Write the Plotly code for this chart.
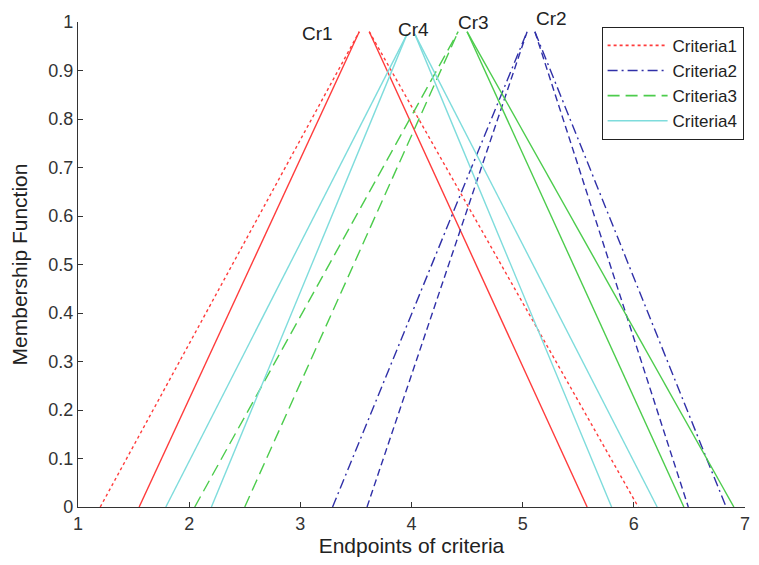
import plotly.graph_objects as go

# ---- data ----
crit_names = ["Criteria1", "Criteria2", "Criteria3", "Criteria4"]
peak_labels = ["Cr1", "Cr2", "Cr3", "Cr4"]
outer_left = [1.20, 3.29, 2.05, 1.79]
inner_left = [1.55, 3.60, 2.50, 2.20]
peak_left = [3.53, 5.04, 4.42, 3.96]
peak_right = [3.62, 5.11, 4.50, 4.03]
inner_right = [5.58, 6.49, 6.45, 5.80]
outer_right = [6.04, 6.83, 6.90, 6.21]
peak_height = [0.98, 0.98, 0.98, 0.975]

x_ticks = [1, 2, 3, 4, 5, 6, 7]
y_ticks = [0, 0.1, 0.2, 0.3, 0.4, 0.5, 0.6, 0.7, 0.8, 0.9, 1]

# ---- styles ----
colors = ["#ff3b3b", "#3030a8", "#4ccc4c", "#7edcdc"]
legend_dash = ["3px,3px", "10px,4px,2px,4px", "12px,6px", "solid"]
# per segment: outer-left, inner-left, inner-right, outer-right
seg_dash = [
    ["3px,3px", "solid", "solid", "3px,3px"],
    ["10px,4px,2px,4px", "7px,4px", "7px,4px", "10px,4px,2px,4px"],
    ["12px,6px", "12px,6px", "solid", "solid"],
    ["solid", "solid", "solid", "solid"],
]
label_pos = [(3.15, 0.977), (5.26, 1.008), (4.56, 0.999), (4.02, 0.984)]

FONT = "Liberation Sans, Arial, sans-serif"

fig = go.Figure()

for i, name in enumerate(crit_names):
    h = peak_height[i]
    segs = [
        ([outer_left[i], peak_left[i]], [0, h]),
        ([inner_left[i], peak_left[i]], [0, h]),
        ([peak_right[i], inner_right[i]], [h, 0]),
        ([peak_right[i], outer_right[i]], [h, 0]),
    ]
    for j, (xs, ys) in enumerate(segs):
        fig.add_trace(go.Scatter(
            x=xs, y=ys, mode="lines",
            line=dict(color=colors[i], width=1.4, dash=seg_dash[i][j]),
            name=name, legendgroup=name, showlegend=False,
            hoverinfo="skip",
        ))
    fig.add_trace(go.Scatter(
        x=[None], y=[None], mode="lines",
        line=dict(color=colors[i], width=1.6, dash=legend_dash[i]),
        name=name, legendgroup=name, showlegend=True,
    ))

for i, lab in enumerate(peak_labels):
    fig.add_annotation(
        x=label_pos[i][0], y=label_pos[i][1], xref="x", yref="paper",
        text=lab, showarrow=False,
        font=dict(family=FONT, size=19, color="#222"),
        xanchor="center", yanchor="middle",
    )

axis_font = dict(family=FONT, size=18, color="#333")

# the page body adds an 8px margin, so the figure is sized to fit the window
fig.update_layout(
    width=743, height=549,
    margin=dict(l=70, r=6, t=14, b=50),
    paper_bgcolor="white", plot_bgcolor="white",
    showlegend=True,
    legend=dict(
        x=0.785, y=0.99, xanchor="left", yanchor="top",
        bgcolor="white", bordercolor="#222", borderwidth=1,
        font=dict(family=FONT, size=17, color="#222"),
        itemwidth=60, tracegroupgap=0,
    ),
    xaxis=dict(
        range=[1, 7], tickvals=x_ticks, ticktext=[str(v) for v in x_ticks],
        showgrid=False, zeroline=False, showline=True, linecolor="#333", linewidth=1.2,
        ticks="inside", ticklen=5, tickcolor="#333", mirror=False,
        tickfont=axis_font, automargin=False, ticklabeloverflow="allow",
        title=dict(text="Endpoints of criteria", standoff=10,
                   font=dict(family=FONT, size=21, color="#222")),
    ),
    yaxis=dict(
        range=[0, 1], tickvals=y_ticks, ticktext=[("%g" % v) for v in y_ticks],
        showgrid=False, zeroline=False, showline=True, linecolor="#333", linewidth=1.2,
        ticks="inside", ticklen=5, tickcolor="#333", mirror=False,
        tickfont=axis_font, automargin=False,
        title=dict(text="Membership Function", standoff=17,
                   font=dict(family=FONT, size=21, color="#222")),
    ),
)

fig.write_html("out.html")
